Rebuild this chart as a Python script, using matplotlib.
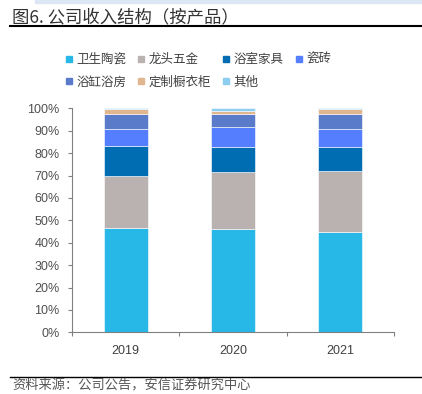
import matplotlib
matplotlib.use('Agg')
import matplotlib.pyplot as plt
from matplotlib.lines import Line2D
import numpy as np

plt.rcParams['font.family'] = ['Noto Sans CJK SC', 'DejaVu Sans']

# data (percent of revenue)
years = ['2019', '2020', '2021']
categories = ['卫生陶瓷', '龙头五金', '浴室家具', '瓷砖', '浴缸浴房', '定制橱衣柜', '其他']
sanitary = [46.7, 46.2, 44.9]
faucets = [23.2, 25.5, 27.2]
bath_furniture = [13.4, 11.2, 10.8]
tiles = [7.6, 8.6, 7.7]
bathtubs = [6.7, 6.1, 7.0]
cabinets = [2.1, 1.3, 2.1]
others = [0.3, 1.1, 0.3]

series = [sanitary, faucets, bath_furniture, tiles, bathtubs, cabinets, others]
colors = ['#27B8E8', '#BAB2B1', '#006CB1', '#547EFE', '#5A7BC9', '#DFB68F', '#8DCDF0']

fig = plt.figure(figsize=(4.22, 3.94), dpi=100)
ax = fig.add_axes([72 / 422, 1 - 332.3 / 394, 322 / 422, 224 / 394])

x = np.arange(len(years))
bottom = np.zeros(len(years))
handles = []
for vals, col, name in zip(series, colors, categories):
    v = np.array(vals)
    ax.bar(x, v, 0.41, bottom=bottom, color=col, edgecolor='white', linewidth=0.4)
    bottom += v
    handles.append(Line2D([], [], marker='s', linestyle='none', markersize=5,
                          markerfacecolor=col, markeredgecolor=col, label=name))

ax.set_xlim(-0.5, 2.5)
ax.set_ylim(0, 100)
ax.set_yticks(np.arange(0, 101, 10))
ax.set_yticklabels([f'{t}%' for t in range(0, 101, 10)],
                   fontfamily='Liberation Sans', fontsize=9, color='#505050')
ax.set_xticks(x)
ax.set_xticklabels(years, fontfamily='Liberation Sans', fontsize=9, color='#404040')
ax.set_xticks([-0.5, 0.5, 1.5, 2.5], minor=True)
ax.tick_params(axis='x', which='major', length=0, pad=9)
ax.tick_params(axis='x', which='minor', length=3, color='#808080', width=0.8)
ax.tick_params(axis='y', length=3, color='#808080', width=0.8, pad=6)
for s in ['top', 'right']:
    ax.spines[s].set_visible(False)
for s in ['left', 'bottom']:
    ax.spines[s].set_color('#808080')
    ax.spines[s].set_linewidth(0.8)

# legend in row-major order (4 columns)
order = [0, 4, 1, 5, 2, 6, 3]
fig.legend([handles[i] for i in order], [categories[i] for i in order],
           ncol=4, loc='center', bbox_to_anchor=(0.47, 0.82), frameon=False,
           fontsize=9, handlelength=0.6, handletextpad=0.3, columnspacing=0.9,
           labelspacing=0.75, labelcolor='#404040')

# header band, title and rules
fig.patches.append(plt.Rectangle((35 / 422, 1 - 3 / 394), 1, 3 / 394,
                                 transform=fig.transFigure, color='#DCE6F4', zorder=0))
fig.text(12 / 422, 1 - 17 / 394, '图6. 公司收入结构（按产品）', fontsize=12.5,
         color='#333333', va='center', ha='left')
fig.add_artist(Line2D([10 / 422, 421 / 422], [1 - 26 / 394, 1 - 26 / 394],
                      color='black', linewidth=1.5, transform=fig.transFigure))
fig.add_artist(Line2D([10 / 422, 421 / 422], [1 - 377 / 394, 1 - 377 / 394],
                      color='black', linewidth=1.0, transform=fig.transFigure))
fig.text(12 / 422, 1 - 386 / 394, '资料来源：公司公告，安信证券研究中心', fontsize=9.5,
         color='#555555', va='center', ha='left')

fig.savefig('out.png', dpi=100)
